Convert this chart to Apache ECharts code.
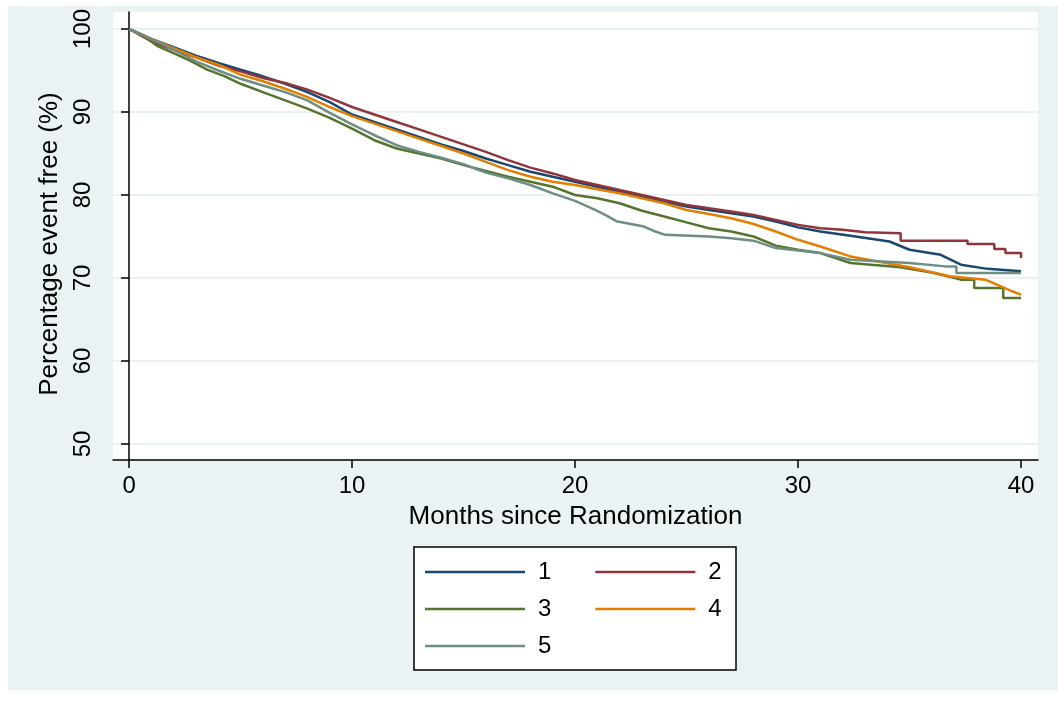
<!DOCTYPE html>
<html>
<head>
<meta charset="utf-8">
<script src="https://cdn.jsdelivr.net/npm/echarts@6/dist/echarts.min.js"></script>
<style>
  html, body { margin: 0; padding: 0; background: #ffffff; }
  #bg { position: absolute; left: 8px; top: 6px; width: 1050px; height: 684px; background: #eaf2f3; }
  #main { position: absolute; left: 0; top: 0; width: 1058px; height: 704px; }
</style>
</head>
<body>
<div id="bg"></div>
<div id="main"></div>
<script>
// data: [month, percent event free]
var group1 = [[0,100],[1,98.8],[2,97.8],[3,96.8],[4,95.9],[5,95.1],[6,94.3],[7,93.4],[8,92.4],[9,91.2],[10,89.7],[11,88.8],[12,87.9],[13,87.0],[14,86.1],[15,85.3],[16,84.4],[17,83.6],[18,82.8],[19,82.2],[20,81.6],[21,81.0],[22,80.4],[23,79.8],[24,79.2],[25,78.6],[26,78.2],[27,77.8],[28,77.4],[29,76.8],[30,76.1],[31,75.6],[32.35,75.1],[34.1,74.4],[35,73.4],[36.4,72.8],[37.3,71.6],[38.5,71.1],[40,70.8]];
var group2 = [[0,100],[1,98.5],[2,97.5],[3,96.6],[4,95.6],[5,94.9],[6,94.1],[7,93.5],[8,92.7],[9,91.7],[10,90.6],[11,89.7],[12,88.8],[13,87.9],[14,87.0],[15,86.1],[16,85.2],[17,84.2],[18,83.3],[19,82.6],[20,81.8],[21,81.2],[22,80.6],[23,80.0],[24,79.4],[25,78.8],[26,78.4],[27,78.0],[28,77.6],[29,77.0],[30,76.4],[31,76.0],[32,75.8],[33,75.5],[34.6,75.4],[34.6,74.5],[37.6,74.5],[37.6,74.1],[38.8,74.1],[38.8,73.5],[39.3,73.5],[39.3,73.0],[40,73.0],[40,72.4]];
var group3 = [[0,100],[0.7,99.1],[1.3,97.9],[2,97.1],[2.8,96.1],[3.5,95.1],[4.3,94.3],[5,93.4],[6,92.4],[7,91.4],[8,90.4],[9,89.3],[10,88.0],[11,86.6],[12,85.6],[13,85.0],[14,84.4],[15,83.6],[16,82.9],[17,82.2],[18,81.6],[19,81.0],[20,80.0],[21,79.6],[22,79.0],[23,78.1],[24,77.4],[25,76.7],[26,76.0],[27,75.6],[28,75.0],[29,73.9],[30,73.4],[31,73.0],[32.35,71.8],[34.6,71.3],[36.1,70.6],[37.3,69.8],[37.9,69.8],[37.9,68.8],[39.2,68.8],[39.2,67.6],[40,67.6]];
var group4 = [[0,100],[1,98.8],[2,97.7],[3,96.6],[4,95.7],[5,94.5],[6,93.7],[7,92.8],[8,91.8],[9,90.6],[10,89.5],[11,88.6],[12,87.7],[13,86.8],[14,85.9],[15,85.0],[16,84.0],[17,83.0],[18,82.2],[19,81.6],[20,81.2],[21,80.7],[22,80.2],[23,79.6],[24,79.0],[25,78.2],[26,77.7],[27,77.2],[28,76.5],[29,75.6],[30,74.6],[31,73.8],[32.35,72.6],[35,71.3],[36.8,70.2],[38.4,69.8],[39.1,69.0],[39.6,68.4],[40,68.0]];
var group5 = [[0,100],[1,98.8],[2,97.5],[3,96.1],[4,95.0],[5,94.0],[6,93.2],[7,92.4],[8,91.4],[9,89.9],[10,88.5],[11,87.2],[12,86.0],[13,85.2],[14,84.5],[15,83.7],[16,82.7],[17,82.0],[18,81.2],[19,80.2],[20,79.3],[20.9,78.2],[21.35,77.6],[21.9,76.8],[23.1,76.2],[23.6,75.6],[24.05,75.2],[26,75.0],[27,74.8],[28,74.5],[29,73.6],[30,73.3],[31,73.0],[32.35,72.2],[35,71.8],[36.6,71.4],[37.1,71.4],[37.1,70.6],[40,70.6]];

var groupNames = ['1', '2', '3', '4', '5'];
var groupColors = ['#1a476f', '#90353b', '#55752f', '#e37e00', '#6e8e84'];
var xTicks = [0, 10, 20, 30, 40];
var yTicks = [50, 60, 70, 80, 90, 100];

var font = "'Liberation Sans', Arial, Helvetica, sans-serif";
var allData = [group1, group2, group3, group4, group5];

var seriesList = [];
for (var i = 0; i < allData.length; i++) {
    seriesList.push({
        name: groupNames[i],
        type: 'line',
        data: allData[i],
        symbol: 'none',
        lineStyle: { color: groupColors[i], width: 2.5 },
        itemStyle: { color: groupColors[i] }
    });
}

function legendRow(names, top) {
    return {
        data: names,
        left: 425,
        top: top,
        padding: 0,
        itemWidth: 100,
        itemHeight: 24,
        itemGap: 44,
        icon: 'path://M0,0 L100,0 L100,2.5 L0,2.5 Z',
        textStyle: { fontFamily: font, fontSize: 24, color: '#000', padding: [0, 0, 0, 8] }
    };
}

var chart = echarts.init(document.getElementById('main'));
var option = {
    backgroundColor: 'transparent',
    animation: false,
    grid: {
        left: 113, right: 20, top: 12, bottom: 244,
        show: true, backgroundColor: '#ffffff', borderWidth: 0
    },
    xAxis: {
        type: 'value',
        min: -0.72,
        max: 40.76,
        name: 'Months since Randomization',
        nameLocation: 'middle',
        nameGap: 44,
        nameTextStyle: { fontFamily: font, fontSize: 26, color: '#000' },
        axisLine: { lineStyle: { color: '#000', width: 1.5 } },
        axisTick: { customValues: xTicks, length: 8, lineStyle: { color: '#000', width: 1.5 } },
        axisLabel: { customValues: xTicks, fontFamily: font, fontSize: 24, color: '#000', margin: 14 },
        splitLine: { show: false }
    },
    yAxis: {
        type: 'value',
        min: 48.07,
        max: 102.05,
        name: 'Percentage event free (%)',
        nameLocation: 'middle',
        nameGap: 50,
        nameTextStyle: { fontFamily: font, fontSize: 26, color: '#000', padding: [0, 16, 0, 0] },
        axisLine: { show: true, lineStyle: { color: '#000', width: 1.5 } },
        axisTick: { show: true, customValues: yTicks, length: 8, lineStyle: { color: '#000', width: 1.5 } },
        axisLabel: { customValues: yTicks, rotate: 90, fontFamily: font, fontSize: 24, color: '#000', margin: 18 },
        splitLine: { show: true, lineStyle: { color: '#eaf2f3', width: 2 } }
    },
    legend: [
        legendRow(['1', '2'], 560),
        legendRow(['3', '4'], 597),
        legendRow(['5'], 634)
    ],
    graphic: [{
        type: 'rect',
        shape: { x: 414, y: 547, width: 322, height: 123 },
        style: { fill: '#ffffff', stroke: '#000', lineWidth: 1.5 },
        z: 0
    }],
    series: seriesList
};
chart.setOption(option);
</script>
</body>
</html>
